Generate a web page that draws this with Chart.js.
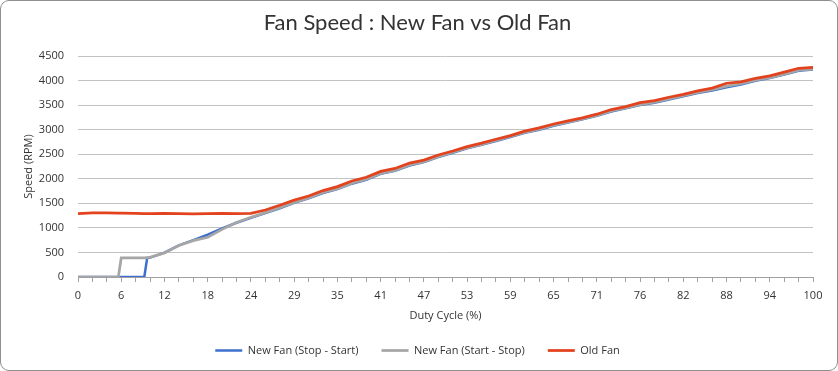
<!DOCTYPE html>
<html>
<head>
<meta charset="utf-8">
<script src="https://cdn.jsdelivr.net/npm/chart.js@4"></script>
<style>
  html, body { margin: 0; padding: 0; background: #fff; }
  #wrap { position: relative; width: 838px; height: 371px; }
  #frame {
    position: absolute; left: 0; top: 0; width: 838px; height: 371px;
    box-sizing: border-box; border: 1px solid #8f8f8f; border-radius: 9px;
    pointer-events: none;
  }
</style>
</head>
<body>
<div id="wrap">
  <canvas id="fanChart" width="838" height="371"></canvas>
  <div id="frame"></div>
</div>
<script>
// PWM steps (0-255) the speeds were sampled at
const pwmSteps = [0, 5, 10, 14, 15, 20, 23, 24, 25,
  30, 35, 40, 45, 50, 55, 60, 65, 70, 75, 80, 85, 90, 95, 100,
  105, 110, 115, 120, 125, 130, 135, 140, 145, 150, 155, 160, 165, 170, 175, 180,
  185, 190, 195, 200, 205, 210, 215, 220, 225, 230, 235, 240, 245, 250, 255];

// tick labels shown every 15 PWM steps, as duty cycle %
const dutyLabels = ['0', '6', '12', '18', '24', '29', '35', '41', '47', '53',
  '59', '65', '71', '76', '82', '88', '94', '100'];

const oldFan = [1290, 1305, 1305, 1300, 1300, 1295, 1290, 1290, 1290,
  1295, 1290, 1285, 1290, 1295, 1290, 1295, 1365, 1460, 1565, 1650, 1760, 1840, 1955, 2030,
  2150, 2210, 2320, 2380, 2485, 2565, 2655, 2725, 2805, 2880, 2970, 3035, 3115, 3180, 3240, 3315,
  3410, 3470, 3550, 3590, 3660, 3720, 3790, 3845, 3945, 3975, 4045, 4095, 4170, 4250, 4270];

const newFanStartStop = [0, 0, 0, 0, 390, 390, 390, 395, 400,
  490, 640, 740, 810, 970, 1110, 1215, 1310, 1410, 1520, 1610, 1720, 1800, 1910, 1990,
  2110, 2170, 2280, 2350, 2450, 2540, 2630, 2700, 2780, 2860, 2945, 3010, 3090, 3155, 3220, 3290,
  3380, 3445, 3510, 3560, 3625, 3690, 3760, 3815, 3885, 3935, 4010, 4060, 4130, 4210, 4235];

const newFanStopStart = [0, 0, 0, 0, 0, 0, 0, 385, 395,
  495, 645, 750, 860, 990, 1105, 1205, 1300, 1400, 1510, 1600, 1710, 1790, 1900, 1980,
  2100, 2160, 2270, 2340, 2440, 2530, 2620, 2690, 2770, 2850, 2935, 3000, 3080, 3145, 3210, 3280,
  3370, 3435, 3500, 3550, 3615, 3680, 3745, 3795, 3865, 3920, 3995, 4050, 4120, 4200, 4225];

const textColor = '#333333';
const tickFont = { family: 'Open Sans', size: 11 };

const toPoints = (ys) => pwmSteps.map((x, i) => ({ x: x, y: ys[i] }));

const ctx = document.getElementById('fanChart').getContext('2d');

// Old Fan first so it is drawn on top; legend is reversed to keep the original order
new Chart(ctx, {
  type: 'line',
  data: {
    datasets: [
      {
        label: 'Old Fan',
        data: toPoints(oldFan),
        borderColor: '#e2431e',
        backgroundColor: '#e2431e',
        borderWidth: 2.75,
        pointRadius: 0,
        tension: 0,
        fill: false,
      },
      {
        label: 'New Fan (Start - Stop)',
        data: toPoints(newFanStartStop),
        borderColor: '#a6a6a6',
        backgroundColor: '#a6a6a6',
        borderWidth: 2.75,
        pointRadius: 0,
        tension: 0,
        fill: false,
      },
      {
        label: 'New Fan (Stop - Start)',
        data: toPoints(newFanStopStart),
        borderColor: '#3c6fce',
        backgroundColor: '#3c6fce',
        borderWidth: 2.5,
        pointRadius: 0,
        tension: 0,
        fill: false,
      }
    ]
  },
  options: {
    responsive: false,
    animation: false,
    layout: { padding: { left: 22, right: 25, top: 0, bottom: 5 } },
    scales: {
      x: {
        type: 'linear',
        min: 0,
        max: 255,
        ticks: {
          stepSize: 5,
          autoSkip: false,
          maxRotation: 0,
          padding: 7,
          color: textColor,
          font: tickFont,
          callback: (v) => {
            const n = Math.round(v);
            return n % 15 === 0 ? dutyLabels[n / 15] : '';
          }
        },
        grid: { drawOnChartArea: false, drawTicks: true, tickLength: 5, color: '#a0a0a0' },
        border: { display: true, color: '#a0a0a0' },
        title: { display: true, text: 'Duty Cycle (%)', color: textColor, font: tickFont, padding: 0 },
        afterFit: (scale) => { scale.height = 45; }
      },
      y: {
        min: 0,
        max: 4500,
        ticks: {
          stepSize: 500,
          padding: 14,
          color: textColor,
          font: tickFont,
          callback: (v) => String(v)
        },
        grid: { color: '#c2c2c2', drawTicks: false },
        border: { display: false },
        title: { display: true, text: 'Speed (RPM)', color: textColor, font: tickFont, padding: 0 },
        afterFit: (scale) => { scale.width = 56; }
      }
    },
    plugins: {
      title: {
        display: true,
        text: 'Fan Speed : New Fan vs Old Fan',
        color: textColor,
        font: { family: 'Lato', size: 22, weight: 'normal' },
        padding: { top: 10, bottom: 19.6 }
      },
      legend: {
        position: 'bottom',
        reverse: true,
        labels: {
          usePointStyle: true,
          pointStyle: 'line',
          pointStyleWidth: 27,
          padding: 23,
          color: textColor,
          font: tickFont
        }
      },
      tooltip: { enabled: false }
    }
  }
});
</script>
</body>
</html>
